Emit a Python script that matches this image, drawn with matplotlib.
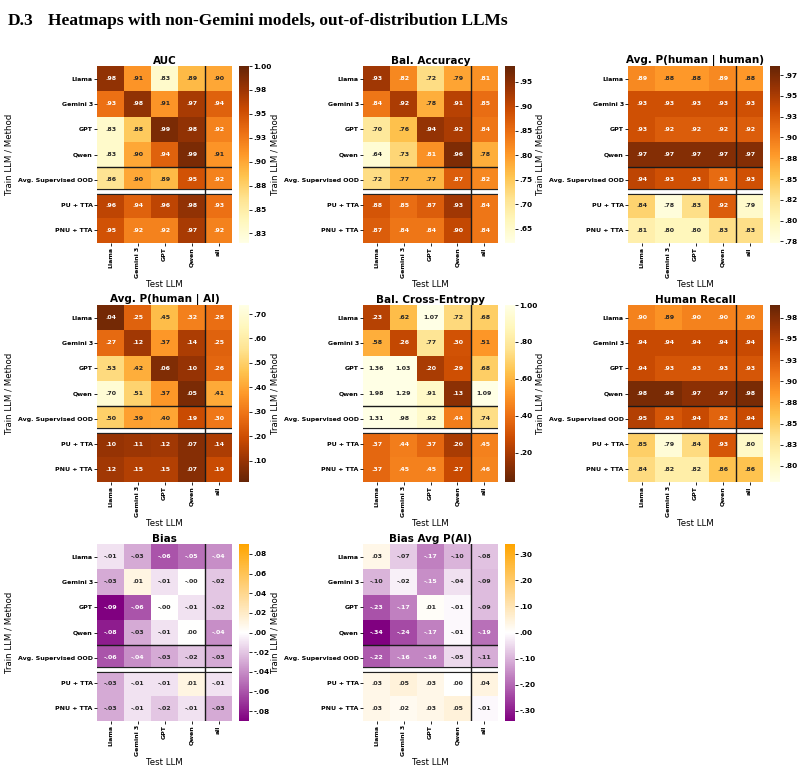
import numpy as np
import matplotlib
matplotlib.use("Agg")
import matplotlib.pyplot as plt
from matplotlib.colors import Normalize, LinearSegmentedColormap

# ---------------- data ----------------
train_labels = ["Llama", "Gemini 3", "GPT", "Qwen", "Avg. Supervised OOD", "PU + TTA", "PNU + TTA"]
test_labels = ["Llama", "Gemini 3", "GPT", "Qwen", "all"]

auc = [[.98, .91, .83, .89, .90],
       [.93, .98, .91, .97, .94],
       [.83, .88, .99, .98, .92],
       [.83, .90, .94, .99, .91],
       [.86, .90, .89, .95, .92],
       [.96, .94, .96, .98, .93],
       [.95, .92, .92, .97, .92]]

bal_acc = [[.93, .82, .72, .79, .81],
           [.84, .92, .78, .91, .85],
           [.70, .76, .94, .92, .84],
           [.64, .73, .81, .96, .78],
           [.72, .77, .77, .87, .82],
           [.88, .85, .87, .93, .84],
           [.87, .84, .84, .90, .84]]

p_h_given_h = [[.89, .88, .88, .89, .88],
               [.93, .93, .93, .93, .93],
               [.93, .92, .92, .92, .92],
               [.97, .97, .97, .97, .97],
               [.94, .93, .93, .91, .93],
               [.84, .78, .83, .92, .79],
               [.81, .80, .80, .83, .83]]

p_h_given_ai = [[.04, .25, .45, .32, .28],
                [.27, .12, .37, .14, .25],
                [.53, .42, .06, .10, .26],
                [.70, .51, .37, .05, .41],
                [.50, .39, .40, .19, .30],
                [.10, .11, .12, .07, .14],
                [.12, .15, .15, .07, .19]]

bal_ce = [[.23, .62, 1.07, .72, .68],
          [.58, .26, .77, .30, .51],
          [1.36, 1.03, .20, .29, .68],
          [1.98, 1.29, .91, .13, 1.09],
          [1.31, .98, .92, .44, .74],
          [.37, .44, .37, .20, .45],
          [.37, .45, .45, .27, .46]]

human_recall = [[.90, .89, .90, .90, .90],
                [.94, .94, .94, .94, .94],
                [.94, .93, .93, .93, .93],
                [.98, .98, .97, .97, .98],
                [.95, .93, .94, .92, .94],
                [.85, .79, .84, .93, .80],
                [.84, .82, .82, .86, .86]]

bias = [[-.01, -.03, -.06, -.05, -.04],
        [-.03, .01, -.01, -0.0, -.02],
        [-.09, -.06, -0.0, -.01, -.02],
        [-.08, -.03, -.01, .00, -.04],
        [-.06, -.04, -.03, -.02, -.03],
        [-.03, -.01, -.01, .01, -.01],
        [-.03, -.01, -.02, -.01, -.03]]

bias_p_ai = [[.03, -.07, -.17, -.10, -.08],
             [-.10, -.02, -.15, -.04, -.09],
             [-.23, -.17, .01, -.01, -.09],
             [-.34, -.24, -.17, -.01, -.19],
             [-.22, -.16, -.16, -.05, -.11],
             [.03, .05, .03, .00, .04],
             [.03, .02, .03, .05, -.01]]

# colorbar ticks / labels
cb_auc_ticks = [0.825, 0.85, 0.875, 0.90, 0.925, 0.95, 0.975, 1.00]
cb_auc_labels = [".83", ".85", ".88", ".90", ".93", ".95", ".98", "1.00"]
cb_bacc_ticks = [0.65, 0.70, 0.75, 0.80, 0.85, 0.90, 0.95]
cb_bacc_labels = [".65", ".70", ".75", ".80", ".85", ".90", ".95"]
cb_phh_ticks = [0.775, 0.80, 0.825, 0.85, 0.875, 0.90, 0.925, 0.95, 0.975]
cb_phh_labels = [".78", ".80", ".82", ".85", ".88", ".90", ".93", ".95", ".97"]
cb_phai_ticks = [0.1, 0.2, 0.3, 0.4, 0.5, 0.6, 0.7]
cb_phai_labels = [".10", ".20", ".30", ".40", ".50", ".60", ".70"]
cb_ce_ticks = [0.2, 0.4, 0.6, 0.8, 1.0]
cb_ce_labels = [".20", ".40", ".60", ".80", "1.00"]
cb_hr_ticks = [0.80, 0.825, 0.85, 0.875, 0.90, 0.925, 0.95, 0.975]
cb_hr_labels = [".80", ".83", ".85", ".88", ".90", ".93", ".95", ".98"]
cb_bias_ticks = [-0.08, -0.06, -0.04, -0.02, 0.0, 0.02, 0.04, 0.06, 0.08]
cb_bias_labels = ["-.08", "-.06", "-.04", "-.02", ".00", ".02", ".04", ".06", ".08"]
cb_bpai_ticks = [-0.3, -0.2, -0.1, 0.0, 0.1, 0.2, 0.3]
cb_bpai_labels = ["-.30", "-.20", "-.10", ".00", ".10", ".20", ".30"]

# ---------------- figure ----------------
W, H = 801, 769
fig = plt.figure(figsize=(W / 100, H / 100), dpi=100)
fig.patch.set_facecolor("white")

fig.text(8 / W, 1 - 25 / H, "D.3", fontsize=12.5, fontweight="bold",
         family="Liberation Serif", va="baseline", ha="left")
fig.text(48 / W, 1 - 25 / H, "Heatmaps with non-Gemini models, out-of-distribution LLMs",
         fontsize=12.5, fontweight="bold", family="Liberation Serif", va="baseline", ha="left")

div_cmap = LinearSegmentedColormap.from_list("pw_o", ["purple", "white", "orange"])
ylorbr = plt.get_cmap("YlOrBr")
ylorbr_r = plt.get_cmap("YlOrBr_r")


def box(x0, y0, x1, y1):
    return [x0 / W, 1 - y1 / H, (x1 - x0) / W, (y1 - y0) / H]


def rel_lum(c):
    rgb = np.array(c[:3])
    rgb = np.where(rgb <= 0.03928, rgb / 12.92, ((rgb + 0.055) / 1.055) ** 2.4)
    return 0.2126 * rgb[0] + 0.7152 * rgb[1] + 0.0722 * rgb[2]


def fmt(v):
    s = f"{v:.2f}"
    if s.startswith("0."):
        s = s[1:]
    elif s.startswith("-0."):
        s = "-" + s[2:]
    return s


def panel(x0, y0, title, data, cmap, vmin, vmax, cticks, clabels):
    x1, y1 = x0 + 135, y0 + 177
    ax = fig.add_axes(box(x0, y0, x1, y1))
    cax = fig.add_axes(box(x1 + 7, y0, x1 + 17, y1))
    arr = np.array(data, dtype=float)
    nr, nc = arr.shape
    norm = Normalize(vmin=vmin, vmax=vmax)
    mesh = ax.pcolormesh(np.arange(nc + 1), np.arange(nr + 1), arr, cmap=cmap, norm=norm)
    ax.set_xlim(0, nc)
    ax.set_ylim(nr, 0)
    for i in range(nr):
        for j in range(nc):
            col = cmap(norm(arr[i, j]))
            tc = "#262626" if rel_lum(col) > 0.408 else "white"
            ax.text(j + 0.5, i + 0.5, fmt(arr[i, j]), ha="center", va="center",
                    fontsize=4.5, fontweight="bold", color=tc)
    # separators
    ax.axhline(4, color="#1a1a1a", lw=1.0, zorder=3)
    ax.axhline(5, color="#222222", lw=4.4, zorder=3)
    ax.axhline(5, color="white", lw=2.7, zorder=4)
    ax.axvline(4, color="#1a1a1a", lw=1.0, zorder=5)
    for s in ax.spines.values():
        s.set_visible(False)
    ax.set_xticks(np.arange(nc) + 0.5)
    ax.set_xticklabels(test_labels, rotation=90, fontsize=4.5, fontweight="bold")
    ax.set_yticks(np.arange(nr) + 0.5)
    ax.set_yticklabels(train_labels, fontsize=4.5, fontweight="bold")
    ax.tick_params(length=2, width=0.6, pad=1)
    ax.set_title(title, fontsize=7.5, fontweight="bold", pad=1.5)
    ax.set_xlabel("Test LLM", fontsize=6.2, labelpad=1)
    ax.set_ylabel("Train LLM / Method", fontsize=6.2, labelpad=3)
    cb = fig.colorbar(mesh, cax=cax)
    cb.outline.set_linewidth(0)
    cb.set_ticks(cticks)
    cb.set_ticklabels(clabels)
    cax.tick_params(labelsize=5.3, length=2, width=0.6, pad=1)
    for t in cax.get_yticklabels():
        t.set_fontweight("bold")
    return ax


cols = [97, 363, 628]
rows = [66, 305, 544]

panel(cols[0], rows[0], "AUC", auc, ylorbr, 0.815, 1.0, cb_auc_ticks, cb_auc_labels)
panel(cols[1], rows[0], "Bal. Accuracy", bal_acc, ylorbr, 0.621, 0.982, cb_bacc_ticks, cb_bacc_labels)
panel(cols[2], rows[0], "Avg. P(human | human)", p_h_given_h, ylorbr, 0.773, 0.986, cb_phh_ticks, cb_phh_labels)
panel(cols[0], rows[1], "Avg. P(human | AI)", p_h_given_ai, ylorbr_r, 0.013, 0.737, cb_phai_ticks, cb_phai_labels)
panel(cols[1], rows[1], "Bal. Cross-Entropy", bal_ce, ylorbr_r, 0.04, 1.0, cb_ce_ticks, cb_ce_labels)
panel(cols[2], rows[1], "Human Recall", human_recall, ylorbr, 0.781, 0.990, cb_hr_ticks, cb_hr_labels)
panel(cols[0], rows[2], "Bias", bias, div_cmap, -0.09, 0.09, cb_bias_ticks, cb_bias_labels)
panel(cols[1], rows[2], "Bias Avg P(AI)", bias_p_ai, div_cmap, -0.34, 0.34, cb_bpai_ticks, cb_bpai_labels)

fig.savefig("out.png", dpi=100)
